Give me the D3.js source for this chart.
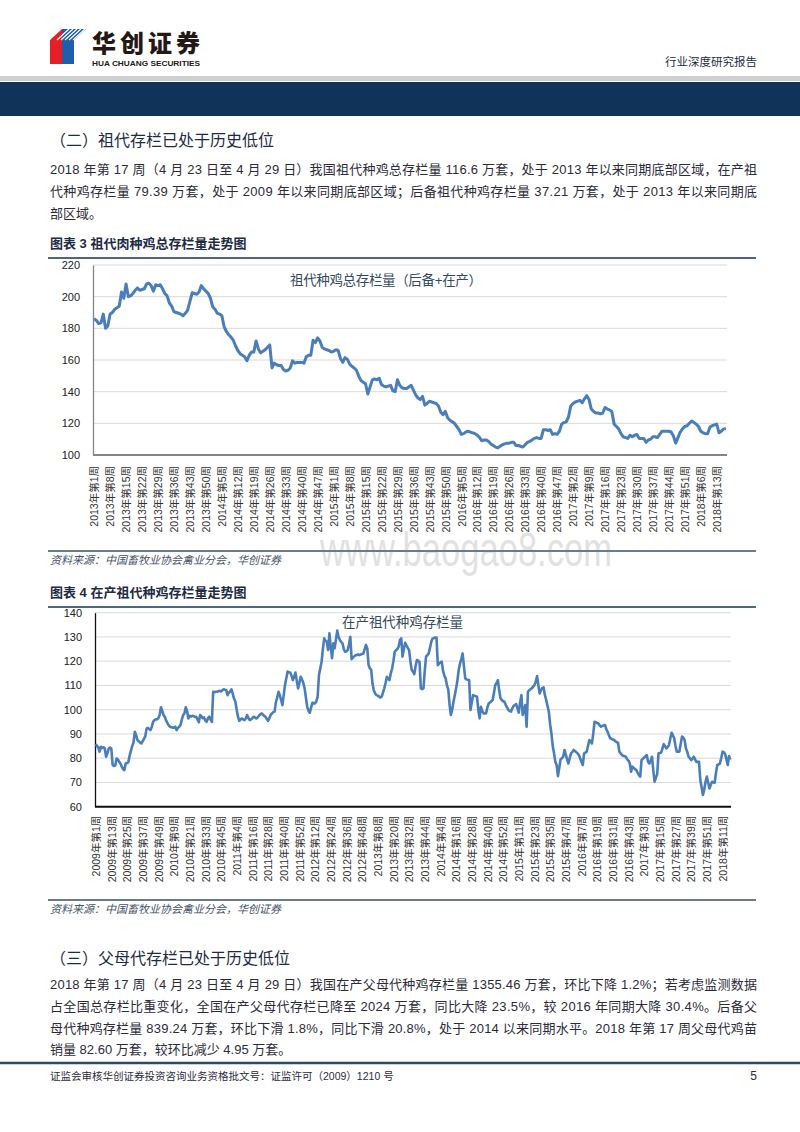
<!DOCTYPE html>
<html>
<head>
<meta charset="utf-8">
<script src="https://cdn.jsdelivr.net/npm/d3@7"></script>
<style>
  body { margin: 0; background: #fff; }
  svg { display: block; }
  text { font-family: "Liberation Sans", "Noto Sans CJK SC", sans-serif; }
</style>
</head>
<body>
<div id="page"></div>
<script>
// ---- data ----
// chart 1: total grandparent stock, 2013 W1 .. 2018 W17 (10k sets)
var stock1 = [
  186,185,183,183.5,189,180,181.5,189,190,192,
  193,194,203,199,208,200,200.5,202,204,205.5,
  204,204.5,205,208,208.5,207,203.5,207.5,207,207.5,
  205,202,200.5,196,194,190.5,190,189.5,189,188,
  189.5,191.5,197,202.5,202,201.5,203,207,205,203.5,
  202,199,193.5,192,189.5,189,188,181,178,176,
  174.5,172.5,169,166,164,163,162,159.5,163,165,
  165,172,167,164.5,165.5,166.5,168,169.5,155,158,
  157,156.5,156.5,154,153,153.5,155,159.5,158,158.5,
  158.5,158.5,158,162,163,163,172.5,171,174,172,
  168,167,166.5,166,165,165.5,166.5,166,161,158.5,
  161.5,160.5,157.5,156,155,153.5,150,147,146,145,
  138.5,143,147.5,148,147.5,148.5,144.5,143.5,143,143.5,
  144,140.5,140,147.5,144,142.5,142,142,143,144,
  141,138,136,135,137,131.5,132.5,134,133.5,133,
  132.5,131,127,125.5,127.5,123.5,122,121,120,118,
  116,113,113.5,114.5,115,114.5,114,113.5,112.5,111,
  109,109.5,109.5,108.5,107,106,105,104.5,105.5,106.5,
  107,107.5,107.5,108,108,106,106,105.5,105,106.5,
  108,108.5,109.5,110.5,111,110.5,110.5,116,116,115.5,
  116,113,113.5,113,115,119.5,120.5,121,124,131,
  132.5,133.5,134,134.5,133,135.5,137.5,135,129,127.5,
  126.5,126.5,126,126.5,130,129,128.5,127.5,119.5,118,
  116.5,113.5,111.5,111,110.5,112.5,111.5,112.5,113,110.5,
  110.5,110.5,108,109.5,110,111.5,111.5,111,113,115,
  115,115,115,114.5,112,107.5,111,114.5,116.5,118,
  118.5,120,121.5,120.5,119.5,118,115,114,113.5,113.5,
  117.5,118.5,119,119.5,114,115,116.5,116.6
];
var ticks1 = [
  "2013年第1周","2013年第8周","2013年第15周","2013年第22周","2013年第29周","2013年第36周","2013年第43周","2013年第50周",
  "2014年第5周","2014年第12周","2014年第19周","2014年第26周","2014年第33周","2014年第40周","2014年第47周",
  "2015年第1周","2015年第8周","2015年第15周","2015年第22周","2015年第29周","2015年第36周","2015年第43周","2015年第50周",
  "2016年第5周","2016年第12周","2016年第19周","2016年第26周","2016年第33周","2016年第40周","2016年第47周",
  "2017年第2周","2017年第9周","2017年第16周","2017年第23周","2017年第30周","2017年第37周","2017年第44周","2017年第51周",
  "2018年第6周","2018年第13周"
];
var yTicks1 = [100, 120, 140, 160, 180, 200, 220];

// chart 2: productive grandparent stock, 2009 W1 .. 2018 W17 (10k sets)
var stock2 = [
  85.8,85,84.5,82.7,84.7,84.2,84.5,84,80.6,82,84,84.4,
  84,77.2,76.8,77,79.9,79.5,78.5,77.8,76.5,75.5,75.1,77.8,
  78,78.3,81,83,85,86.5,90.9,89.5,87.5,87,86.5,86.1,
  87,88,89,92.3,92.5,92,91.6,93,95,95.7,96,96,
  96.5,97.8,101,99.5,97.8,97,95.5,94.5,93.5,93,92.8,92.6,
  92.6,93,91.6,92.5,93,93.7,96,97.8,98.5,101,99.5,96.4,
  97.5,97.2,97.5,97.4,97,97.1,96,94.8,97.8,97.2,96.5,96.8,
  95.5,95,96.5,97.1,96,95,107.4,107.2,107.4,107.4,107.6,107.8,
  107.5,108,108.4,108.2,108.1,106,107,107.5,108.4,106.5,104.5,103.3,
  100,97.1,95.4,96,96.4,96,95.7,96.5,97.8,96.5,95.7,96,
  96.5,97.1,96.8,96.4,96.8,97.5,98,98.5,98,97.5,97.1,96.2,
  95.4,96.5,97.8,98.5,99,99.2,103,105,107.4,106,104,101.9,
  106,110.2,113,115.7,115.5,115.3,114,112.2,113.5,115.3,112,108.8,
  111,113.6,112.5,111,108.8,105,101.2,99.5,98.8,101,102.9,102.6,
  102.6,103.5,105.4,114.3,117,119.8,125,129.4,128.5,128,124.6,131.5,
  126,121.2,127.4,125.3,129,132.6,130,128.7,128,127.4,125,123.9,
  124,124.6,127,130.1,120.8,121.5,122,122.5,122.5,122.8,122.5,122.8,
  123,123.2,125,126.7,125.3,118.4,117,116.4,110.8,108,106.7,106,
  105.8,105.4,105,105.4,107,108.8,111,113.6,112.8,112.2,115,117,
  120,123.9,124.5,125,126,128.7,129.4,121.9,125,127.6,126.5,125.5,
  124.6,120,116.4,115.7,114.7,118,120.5,120.2,119.8,108.8,108.5,108.8,
  116,121.9,122.5,123.2,125.5,128,129.4,129.5,129.8,129.8,118.4,119,
  119.5,119.8,116,114,112.9,110,108.4,102,97.8,100,103.3,106,
  108.8,112,116.4,119,121,123.2,118,112.9,112.5,112.3,112.2,99.9,
  103,106,105.8,105.6,105.4,100,96.4,101.2,99.5,98.5,98.5,98.5,
  101,102.6,103,103.5,104,107,110.2,111,112.2,108,104.7,104,
  103.5,103.3,102,101,99.9,99.5,99.2,100.5,101.5,102,102.3,100.5,
  98.8,103,106,97.8,100,101.9,93,107.4,108,108.5,108.8,109.5,
  110.2,111.5,113.9,110,106.7,108,109,109.2,106,104,101.5,99.2,
  94,90.2,85,82,78.5,77.2,72.6,76,79.5,80,80.6,83.4,
  81.5,79.5,77.8,80,82,82.5,83.4,83,82.5,82,81.3,80,
  78.5,77.2,82,82.3,82.7,85,87.5,86.8,86.1,90,95,94.8,
  94.5,94.3,93.5,93,93.3,93.5,93.7,92,90.9,89.5,88.2,88,
  87.7,87.5,87,86.6,86.4,82.7,82,81.3,81,80.8,80.6,79.5,
  79,77.8,74.4,76.5,76,75.5,75.1,74,73,72.4,79.2,79.8,
  80.3,80.8,81.3,78.5,77.8,79,80.6,75,70.3,72,73.4,82,
  82.1,82.3,84,85.8,85,84,84.6,85.4,88,90.5,89.5,88.2,
  85,82.7,82.7,82.7,86,88.9,88.5,87.5,84,82.7,80.6,80,
  79.2,79.8,80.6,79.5,78.5,78.5,78.5,71,68,64.8,67,70.3,
  72.4,70,67.5,69,70.3,70,69.9,74,77.2,77.5,77.8,80,
  82.7,82.5,81.7,79.5,77.2,80.9,79.4
];
var ticks2 = [
  "2009年第1周","2009年第13周","2009年第25周","2009年第37周","2009年第49周",
  "2010年第9周","2010年第21周","2010年第33周","2010年第45周",
  "2011年第4周","2011年第16周","2011年第28周","2011年第40周","2011年第52周",
  "2012年第12周","2012年第24周","2012年第36周","2012年第48周",
  "2013年第8周","2013年第20周","2013年第32周","2013年第44周",
  "2014年第4周","2014年第16周","2014年第28周","2014年第40周","2014年第52周",
  "2015年第11周","2015年第23周","2015年第35周","2015年第47周",
  "2016年第7周","2016年第19周","2016年第31周","2016年第43周",
  "2017年第3周","2017年第15周","2017年第27周","2017年第39周","2017年第51周",
  "2018年第11周"
];
var yTicks2 = [60, 70, 80, 90, 100, 110, 120, 130, 140];

var para1 = [
  "2018 年第 17 周（4 月 23 日至 4 月 29 日）我国祖代种鸡总存栏量 116.6 万套，处于 2013 年以来同期底部区域，在产祖",
  "代种鸡存栏量 79.39 万套，处于 2009 年以来同期底部区域；后备祖代种鸡存栏量 37.21 万套，处于 2013 年以来同期底",
  "部区域。"
];
var para2 = [
  "2018 年第 17 周（4 月 23 日至 4 月 29 日）我国在产父母代种鸡存栏量 1355.46 万套，环比下降 1.2%；若考虑监测数据",
  "占全国总存栏比重变化，全国在产父母代存栏已降至 2024 万套，同比大降 23.5%，较 2016 年同期大降 30.4%。后备父",
  "母代种鸡存栏量 839.24 万套，环比下滑 1.8%，同比下滑 20.8%，处于 2014 以来同期水平。2018 年第 17 周父母代鸡苗",
  "销量 82.60 万套，较环比减少 4.95 万套。"
];

// ---- page ----
var W = 800, H = 1132;
var navy = "#10335a";
var svg = d3.select("#page").append("svg").attr("width", W).attr("height", H);

// header logo
var logo = svg.append("g");
logo.append("polygon").attr("points", "50,40 62,29 62,64 50,64").attr("fill", "#e41f26");
logo.append("polygon").attr("points", "62,29 86,29 74,40 74,64 62,64").attr("fill", "#1e5eab");
[0, 4, 8, 12, 16].forEach(function(o) {
  logo.append("line")
    .attr("x1", 57 + o).attr("y1", 40).attr("x2", 69 + o).attr("y2", 29)
    .attr("stroke", "#fff").attr("stroke-width", 1.2);
});
logo.append("text").attr("x", 92).attr("y", 52)
  .attr("font-family", "Noto Sans CJK SC").attr("font-weight", 900)
  .attr("font-size", 24).attr("textLength", 108).attr("fill", "#231815")
  .text("华创证券");
logo.append("text").attr("x", 92).attr("y", 66)
  .attr("font-weight", "bold").attr("font-size", 7).attr("textLength", 108)
  .attr("lengthAdjust", "spacingAndGlyphs").attr("fill", "#231815")
  .text("HUA CHUANG SECURITIES");
svg.append("text").attr("x", 757).attr("y", 66).attr("text-anchor", "end")
  .attr("font-size", 11.5).attr("fill", "#1d2b45").text("行业深度研究报告");

svg.append("rect").attr("x", 0).attr("y", 76).attr("width", W).attr("height", 5).attr("fill", "#cfcfcf");
svg.append("rect").attr("x", 0).attr("y", 82).attr("width", W).attr("height", 34).attr("fill", navy);

// text helpers
function heading(y, s) {
  svg.append("text").attr("x", 50).attr("y", y).attr("font-size", 16)
    .attr("fill", "#1d2b45").text(s);
}
function paragraph(y0, lines) {
  lines.forEach(function(s, i) {
    var t = svg.append("text").attr("x", 50).attr("y", y0 + i * 21.8)
      .attr("font-size", 13).attr("fill", "#2b2b3a").text(s);
    if (i < lines.length - 1) t.attr("textLength", 707);
  });
}
function figTitle(y, s) {
  svg.append("text").attr("x", 50).attr("y", y).attr("font-size", 13)
    .attr("font-weight", "bold").attr("fill", "#1d2b45").text(s);
  svg.append("line").attr("x1", 48).attr("x2", 756).attr("y1", y + 10).attr("y2", y + 10)
    .attr("stroke", navy).attr("stroke-width", 1.5);
}
function source(y) {
  svg.append("line").attr("x1", 48).attr("x2", 756).attr("y1", y - 13).attr("y2", y - 13)
    .attr("stroke", "#6b7b8c").attr("stroke-width", 2);
  svg.append("text").attr("x", 50).attr("y", y).attr("font-size", 11)
    .attr("font-style", "italic").attr("fill", "#44546a")
    .text("资料来源：中国畜牧业协会禽业分会，华创证券");
}

heading(146, "（二）祖代存栏已处于历史低位");
paragraph(174, para1);
figTitle(248, "图表 3 祖代肉种鸡总存栏量走势图");

// chart drawing
function drawChart(o) {
  var g = svg.append("g");
  var x = d3.scalePoint().domain(d3.range(o.values.length)).range([o.left, o.right]).padding(0.5);
  var y = d3.scaleLinear().domain([o.yTicks[0], o.yTicks[o.yTicks.length - 1]]).range([o.bottom, o.top]);

  // grid
  g.selectAll(".grid").data(o.yTicks.slice(1)).enter().append("line")
    .attr("x1", o.left).attr("x2", o.right)
    .attr("y1", function(d) { return y(d); }).attr("y2", function(d) { return y(d); })
    .attr("stroke", "#d9d9d9").attr("stroke-width", 1);

  // y axis
  var ya = g.append("g").attr("transform", "translate(" + o.left + ",0)")
    .call(d3.axisLeft(y).tickValues(o.yTicks).tickSize(0).tickPadding(13));
  ya.select(".domain").attr("stroke", o.axisColor).attr("stroke-width", 1.3);
  ya.selectAll("text").attr("font-size", 11).attr("fill", "#222")
    .attr("font-family", "Liberation Sans");

  // x axis
  var tv = o.ticks.map(function(d, i) { return i * o.step; });
  var xa = g.append("g").attr("transform", "translate(0," + o.bottom + ")")
    .call(d3.axisBottom(x).tickValues(tv).tickSize(0)
      .tickFormat(function(d) { return o.ticks[d / o.step]; }));
  xa.select(".domain").attr("d", "M" + o.left + ",0H" + o.right)
    .attr("stroke", o.axisColor).attr("stroke-width", 2);
  xa.selectAll("text")
    .attr("transform", "rotate(-90)").attr("text-anchor", "end")
    .attr("x", -o.labelGap).attr("y", 0).attr("dy", "0.35em")
    .attr("font-size", 10.5).attr("fill", "#333");

  // series
  var line = d3.line().x(function(d, i) { return x(i); }).y(function(d) { return y(d); });
  g.append("path").datum(o.values).attr("d", line)
    .attr("fill", "none").attr("stroke", "#4a7ebb").attr("stroke-width", o.lineWidth)
    .attr("stroke-linejoin", "round");

  // inside title
  g.append("text").attr("x", o.titleX).attr("y", o.titleY).attr("font-size", 13.5)
    .attr("textLength", o.titleLen).attr("fill", "#34495e").text(o.title);
}

drawChart({
  values: stock1, ticks: ticks1, step: 7, yTicks: yTicks1,
  left: 93, right: 727, top: 265, bottom: 455,
  axisColor: "#858585", labelGap: 11, lineWidth: 3,
  title: "祖代种鸡总存栏量（后备+在产）", titleX: 290, titleY: 285, titleLen: 192
});

// watermark
svg.append("text").attr("x", 320).attr("y", 566).attr("font-size", 48)
  .attr("textLength", 292).attr("lengthAdjust", "spacingAndGlyphs")
  .attr("fill", "#d4d4d4").attr("fill-opacity", 0.7).text("www.baogao8.com");

source(564);
figTitle(597, "图表 4 在产祖代种鸡存栏量走势图");

drawChart({
  values: stock2, ticks: ticks2, step: 12, yTicks: yTicks2,
  left: 95, right: 731, top: 612.7, bottom: 806.7,
  axisColor: "#111", labelGap: 9, lineWidth: 2.6,
  title: "在产祖代种鸡存栏量", titleX: 342, titleY: 627, titleLen: 121
});

source(913);
heading(964, "（三）父母代存栏已处于历史低位");
paragraph(989, para2);

// footer
svg.append("line").attr("x1", 0).attr("x2", 800).attr("y1", 1063).attr("y2", 1063)
  .attr("stroke", "#2e4a62").attr("stroke-width", 2.5);
svg.append("text").attr("x", 50).attr("y", 1080).attr("font-size", 10.5).attr("fill", "#2b2b3a")
  .text("证监会审核华创证券投资咨询业务资格批文号：证监许可（2009）1210 号");
svg.append("text").attr("x", 757).attr("y", 1080).attr("text-anchor", "end")
  .attr("font-size", 12).attr("fill", "#2b2b3a").text("5");
</script>
</body>
</html>
